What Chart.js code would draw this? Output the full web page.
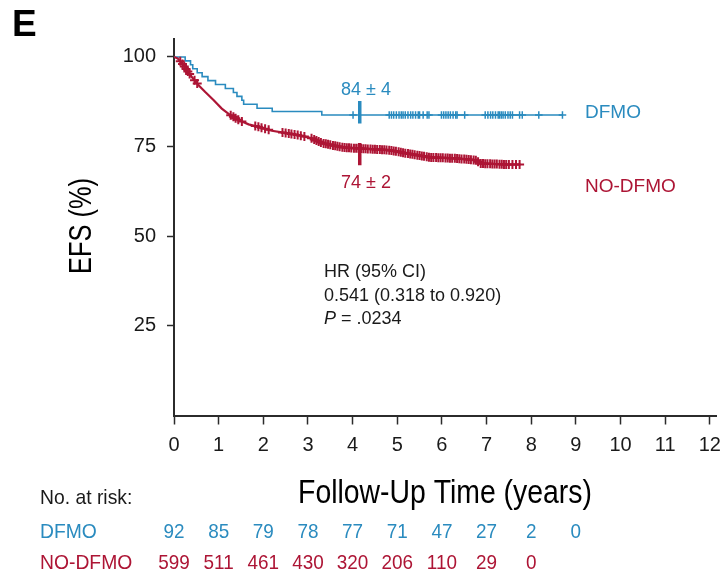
<!DOCTYPE html>
<html>
<head>
<meta charset="utf-8">
<script src="https://cdn.jsdelivr.net/npm/chart.js@4.4.1/dist/chart.umd.min.js"></script>
<style>
  html, body { margin: 0; padding: 0; background: #fff; }
  canvas { display: block; }
</style>
</head>
<body>
<canvas id="efsChart" width="723" height="571"></canvas>
<script>
const BLUE = '#2a8bbf';
const RED = '#ad1535';
const INK = '#1a1a1a';
const SANS = "'Liberation Sans', Arial, sans-serif";

// --- DATA ---
const xTicks = [0, 1, 2, 3, 4, 5, 6, 7, 8, 9, 10, 11, 12];
const yTicks = [25, 50, 75, 100];

// DFMO Kaplan-Meier steps (years, EFS %)
const dfmoTimes = [0, 0.25, 0.37, 0.42, 0.52, 0.63, 0.76, 0.93, 1.15, 1.33, 1.41, 1.52, 1.56, 1.86, 2.20, 3.31];
const dfmoEfs   = [100, 98.9, 97.8, 96.7, 95.6, 94.5, 93.4, 92.3, 91.2, 90.1, 89.0, 87.9, 86.8, 85.7, 84.8, 83.8];
const dfmoCensored = [4.01, 4.82, 4.87, 4.92, 4.98, 5.04, 5.09, 5.13, 5.18, 5.24, 5.30, 5.35, 5.41, 5.47, 5.50,
  5.58, 5.67, 5.71, 5.99, 6.04, 6.09, 6.14, 6.19, 6.25, 6.31, 6.34, 6.51, 6.97, 7.03, 7.09, 7.14, 7.20,
  7.26, 7.29, 7.33, 7.37, 7.42, 7.48, 7.53, 7.58, 7.74, 7.80, 8.17, 8.70];

// NO-DFMO curve (years, EFS %)
const noDfmoTimes = [0, 0.08, 0.18, 0.40, 0.55, 0.70, 0.89, 1.07, 1.26, 1.45, 1.67, 1.89, 2.19, 2.49, 2.79,
  3.09, 3.31, 3.53, 3.83, 4.13, 4.83, 5.21, 5.73, 6.32, 6.77, 6.85, 7.44, 7.74];
const noDfmoEfs = [100, 99.6, 98.2, 94.4, 92.1, 90.2, 87.9, 85.6, 83.8, 82.4, 81.2, 80.5, 79.4, 78.8, 78.2,
  77.3, 76.0, 75.4, 74.7, 74.5, 74.0, 73.1, 72.0, 71.7, 71.2, 70.3, 70.0, 70.0];
const noDfmoCensored = [0.14, 0.19, 0.23, 0.27, 0.31, 0.35, 0.46, 0.52,
  1.27, 1.33, 1.38, 1.44, 1.52, 1.82, 1.89, 1.96, 2.04, 2.12,
  2.43, 2.50, 2.57, 2.63, 2.70, 2.77, 2.84, 2.92,
  3.08, 3.14, 3.19, 3.24, 3.29, 3.35, 3.40, 3.45, 3.50, 3.56, 3.61, 3.66, 3.71, 3.77, 3.82, 3.87, 3.92, 3.97,
  4.03, 4.08, 4.13, 4.19, 4.24, 4.29, 4.34, 4.40, 4.45, 4.50, 4.55, 4.61, 4.66, 4.71, 4.76, 4.82, 4.87, 4.92,
  4.97, 5.03, 5.08, 5.13, 5.18, 5.24, 5.29, 5.34, 5.39, 5.45, 5.50, 5.55, 5.60, 5.66, 5.71, 5.76, 5.81, 5.87,
  5.92, 5.97, 6.02, 6.08, 6.13, 6.18, 6.23, 6.29, 6.34, 6.39, 6.44, 6.50, 6.55, 6.60, 6.65, 6.71, 6.76, 6.81,
  6.87, 6.92, 6.97, 7.02, 7.08, 7.13, 7.18, 7.23, 7.29, 7.34, 7.39, 7.44, 7.50, 7.58, 7.66, 7.74];

// 4-year estimate bars (time, low, high)
const dfmoBar = [4.16, 81.4, 87.7];
const noDfmoBar = [4.16, 69.8, 76.0];

// numbers at risk
const riskTimes = [0, 1, 2, 3, 4, 5, 6, 7, 8, 9];
const dfmoAtRisk = [92, 85, 79, 78, 77, 71, 47, 27, 2, 0];
const noDfmoAtRisk = [599, 511, 461, 430, 320, 206, 110, 29, 0];

// --- HELPERS ---
function stepValueAt(times, vals, t) {
  let v = vals[0];
  for (let i = 0; i < times.length; i++) if (times[i] <= t) v = vals[i];
  return v;
}
function lineValueAt(times, vals, t) {
  for (let i = 1; i < times.length; i++) {
    if (t <= times[i]) {
      const f = (t - times[i - 1]) / (times[i] - times[i - 1]);
      return vals[i - 1] + f * (vals[i] - vals[i - 1]);
    }
  }
  return vals[vals.length - 1];
}

// condensed text: no narrow font installed, so squeeze horizontally
function narrowText(ctx, str, x, y, size, squeeze, align) {
  ctx.save();
  ctx.translate(x, y);
  ctx.scale(squeeze, 1);
  ctx.font = size + 'px ' + SANS;
  ctx.textAlign = align;
  ctx.fillText(str, 0, 0);
  ctx.restore();
}

const dfmoLine = dfmoTimes.map((t, i) => ({ x: t, y: dfmoEfs[i] }));
dfmoLine.push({ x: dfmoCensored[dfmoCensored.length - 1], y: dfmoEfs[dfmoEfs.length - 1] });
const noDfmoLine = noDfmoTimes.map((t, i) => ({ x: t, y: noDfmoEfs[i] }));

const dfmoMarks = dfmoCensored.map(t => ({ x: t, y: stepValueAt(dfmoTimes, dfmoEfs, t) }));
const noDfmoMarks = noDfmoCensored.map(t => ({ x: t, y: lineValueAt(noDfmoTimes, noDfmoEfs, t) }));

// --- TEXT OVERLAY ---
const textPlugin = {
  id: 'efsText',
  afterDraw(chart) {
    const { ctx } = chart;
    const x = chart.scales.x;
    ctx.save();
    ctx.textBaseline = 'middle';

    ctx.fillStyle = '#000';
    ctx.textAlign = 'left';
    ctx.font = 'bold 37px ' + SANS;
    ctx.fillText('E', 12, 26);

    ctx.save();
    ctx.translate(82, 226);
    ctx.rotate(-Math.PI / 2);
    narrowText(ctx, 'EFS (%)', 0, 0, 31, 0.82, 'center');
    ctx.restore();

    narrowText(ctx, 'Follow-Up Time (years)', 445, 494, 33, 0.86, 'center');

    // curve labels
    ctx.textAlign = 'center';
    ctx.font = '18px ' + SANS;
    ctx.fillStyle = BLUE;
    ctx.fillText('84 \u00b1 4', 366, 90);
    ctx.fillStyle = RED;
    ctx.fillText('74 \u00b1 2', 366, 183);
    ctx.textAlign = 'left';
    ctx.font = '19px ' + SANS;
    ctx.fillStyle = BLUE;
    ctx.fillText('DFMO', 585, 113);
    ctx.fillStyle = RED;
    ctx.fillText('NO-DFMO', 585, 187);

    // hazard ratio
    ctx.fillStyle = INK;
    ctx.font = '18px ' + SANS;
    ctx.fillText('HR (95% CI)', 324, 272);
    ctx.fillText('0.541 (0.318 to 0.920)', 324, 296);
    ctx.font = 'italic 18px ' + SANS;
    ctx.fillText('P', 324, 319);
    const pw = ctx.measureText('P').width;
    ctx.font = '18px ' + SANS;
    ctx.fillText(' = .0234', 324 + pw, 319);

    // risk table
    ctx.fillStyle = INK;
    narrowText(ctx, 'No. at risk:', 40, 498, 21, 0.92, 'left');
    ctx.fillStyle = BLUE;
    narrowText(ctx, 'DFMO', 40, 532, 21, 0.92, 'left');
    ctx.fillStyle = RED;
    narrowText(ctx, 'NO-DFMO', 40, 563, 21, 0.92, 'left');
    dfmoAtRisk.forEach((n, i) => {
      ctx.fillStyle = BLUE;
      narrowText(ctx, String(n), x.getPixelForValue(riskTimes[i]), 532, 21, 0.9, 'center');
    });
    noDfmoAtRisk.forEach((n, i) => {
      ctx.fillStyle = RED;
      narrowText(ctx, String(n), x.getPixelForValue(riskTimes[i]), 563, 21, 0.9, 'center');
    });
    ctx.restore();
  }
};

// --- CHART ---
const ctx = document.getElementById('efsChart').getContext('2d');
const efsChart = new Chart(ctx, {
  type: 'scatter',
  data: {
    datasets: [
      {
        label: 'NO-DFMO',
        data: noDfmoLine,
        showLine: true,
        borderColor: RED,
        borderWidth: 2.2,
        pointRadius: 0,
        tension: 0
      },
      {
        label: 'NO-DFMO censored',
        data: noDfmoMarks,
        showLine: false,
        pointStyle: 'cross',
        pointRadius: 4.5,
        borderColor: RED,
        pointBorderWidth: 2,
        backgroundColor: RED
      },
      {
        label: 'NO-DFMO 4y',
        data: [{ x: noDfmoBar[0], y: noDfmoBar[1] }, { x: noDfmoBar[0], y: noDfmoBar[2] }],
        showLine: true,
        borderColor: RED,
        borderWidth: 3.5,
        pointRadius: 0
      },
      {
        label: 'DFMO',
        data: dfmoLine,
        showLine: true,
        stepped: 'before',
        borderColor: BLUE,
        borderWidth: 1.6,
        pointRadius: 0
      },
      {
        label: 'DFMO censored',
        data: dfmoMarks,
        showLine: false,
        pointStyle: 'cross',
        pointRadius: 3.8,
        borderColor: BLUE,
        pointBorderWidth: 1.5,
        backgroundColor: BLUE
      },
      {
        label: 'DFMO 4y',
        data: [{ x: dfmoBar[0], y: dfmoBar[1] }, { x: dfmoBar[0], y: dfmoBar[2] }],
        showLine: true,
        borderColor: BLUE,
        borderWidth: 3.5,
        pointRadius: 0
      }
    ]
  },
  options: {
    responsive: false,
    animation: false,
    devicePixelRatio: 1,
    layout: { padding: { left: 0, top: 39, right: 5, bottom: 105.5 } },
    plugins: {
      legend: { display: false },
      tooltip: { enabled: false }
    },
    scales: {
      x: {
        type: 'linear',
        min: 0,
        max: 12.15,
        afterBuildTicks: s => { s.ticks = xTicks.map(v => ({ value: v })); },
        afterFit: s => { s.height = 50; s.paddingLeft = 0; s.paddingRight = 0; },
        border: { display: true, color: '#2b2b2b', width: 2 },
        grid: { drawOnChartArea: false, drawTicks: true, tickLength: 9, tickColor: '#2b2b2b', tickWidth: 1.5 },
        ticks: { color: INK, font: { family: SANS, size: 20 }, padding: 9, maxRotation: 0 }
      },
      y: {
        type: 'linear',
        min: 0,
        max: 105,
        afterBuildTicks: s => { s.ticks = yTicks.map(v => ({ value: v })); },
        afterFit: s => { s.width = 174; s.paddingTop = 0; s.paddingBottom = 0; },
        border: { display: true, color: '#2b2b2b', width: 2 },
        grid: { drawOnChartArea: false, drawTicks: true, tickLength: 7, tickColor: '#2b2b2b', tickWidth: 1.5 },
        ticks: { color: INK, font: { family: SANS, size: 20 }, padding: 11 }
      }
    }
  },
  plugins: [textPlugin]
});
</script>
</body>
</html>
